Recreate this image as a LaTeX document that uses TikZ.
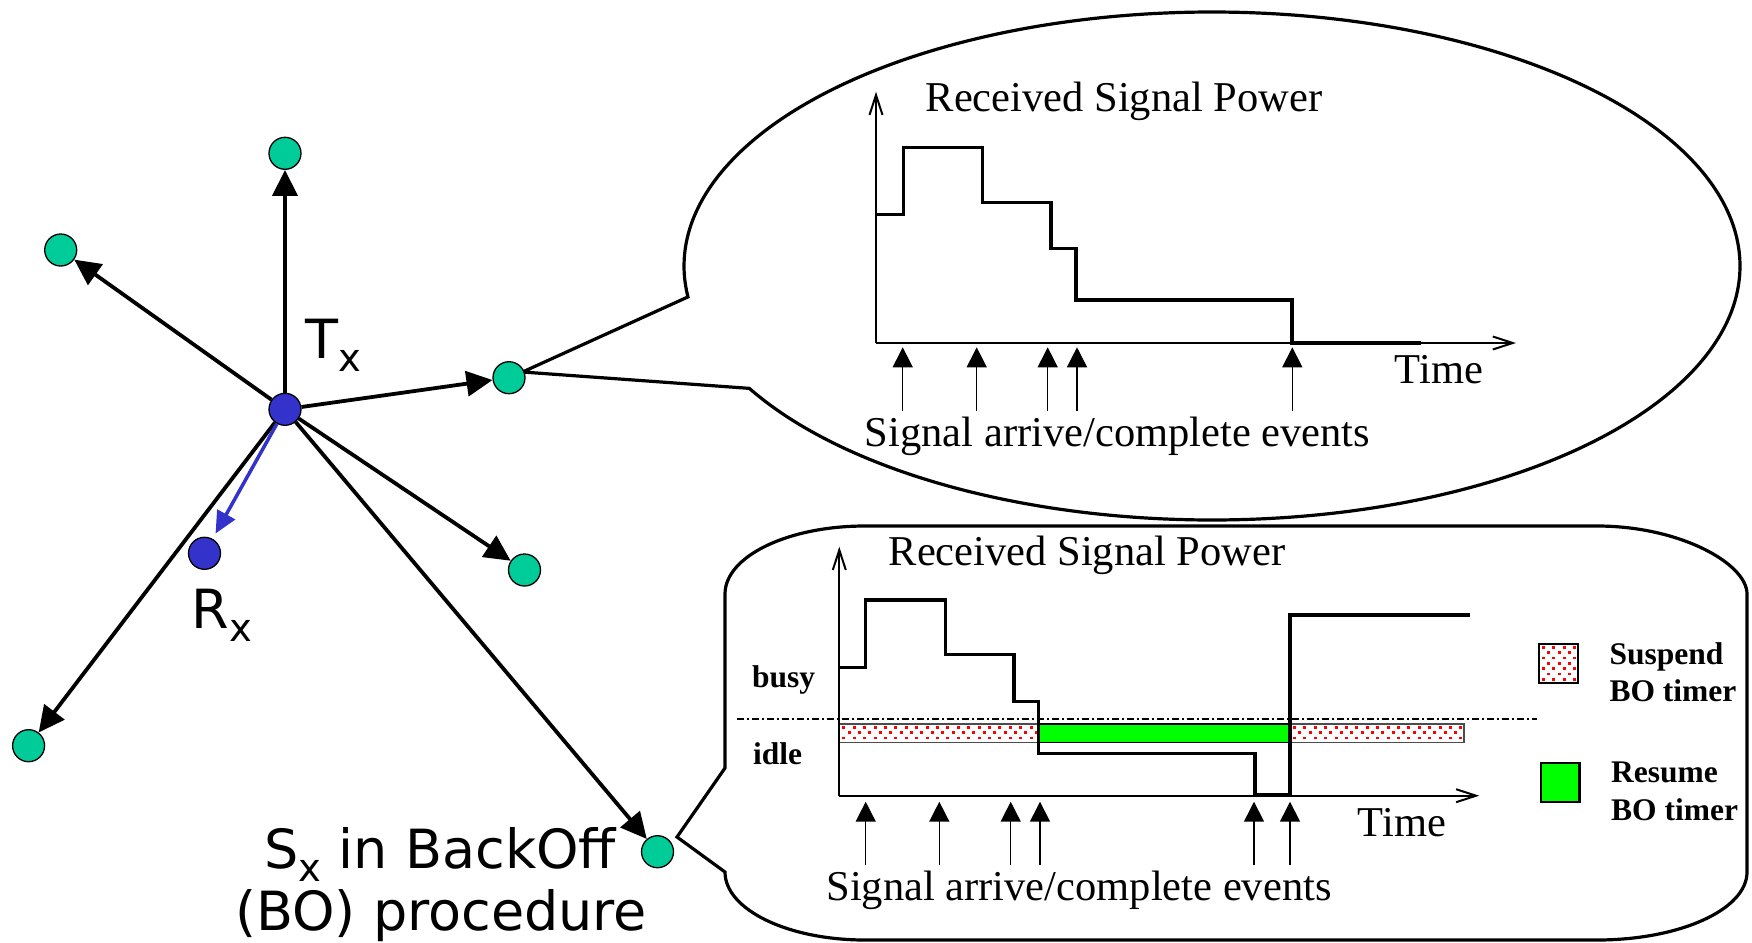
\documentclass[tikz,border=0pt]{standalone}
\usepackage{fontspec}
\setmainfont{Liberation Serif}
\newfontfamily\lblfont{DejaVu Sans}
\usetikzlibrary{arrows.meta}
\definecolor{teal1}{RGB}{0,204,153}
\definecolor{nblue}{RGB}{51,51,204}
\definecolor{bgreen}{RGB}{0,255,0}
\definecolor{dred}{RGB}{255,0,0}

\newcommand{\redDotsBox}[4]{%
  \begin{scope}
    \clip (#1,#2) rectangle (#3,#4);
    \fill[white] (#1,#2) rectangle (#3,#4);
    \foreach \i in {0,...,62}{
      \foreach \j in {0,...,8}{
        \fill[dred] ({#1+3.0+10.4*\i+5.2*mod(\j,2)},{#2+2.0+5.3*\j}) rectangle ++(3.0,2.7);
      }
    }
  \end{scope}}

\tikzset{
  netnode/.style={circle, draw=black, line width=1.3pt, minimum size=32pt, inner sep=0pt, fill=teal1},
  bluenode/.style={netnode, fill=nblue},
  netarrow/.style={line width=3.8pt, -{Triangle[length=26pt,width=25pt]}},
  bluearrow/.style={line width=3.5pt, draw=nblue, -{Triangle[length=22pt,width=20pt]}, shorten >=6pt},
  axisline/.style={line width=2pt, -{Straight Barb[length=20pt,width=13pt]}},
  stepline/.style={line width=3.4pt, line join=miter},
  evarrow/.style={line width=1.5pt, -{Triangle[length=20pt,width=20pt]}},
  charttext/.style={font=\fontsize{42.5}{50}\selectfont, inner sep=0pt, anchor=base},
  boldtext/.style={font=\fontsize{31.5}{36}\selectfont\bfseries, inner sep=0pt, anchor=base west},
  lbltext/.style={font=\lblfont\fontsize{54}{62}\selectfont, inner sep=0pt, anchor=base west},
  bubble/.style={line width=3.2pt, line join=miter},
  barline/.style={draw=black!70, line width=1.2pt},
}

\begin{document}
\begin{tikzpicture}[x=1pt,y=-1pt]
\useasboundingbox (0,0) rectangle (1752,942);

% ---------- upper callout (ellipse) ----------
\coordinate (apexA) at (522.5,372);
\draw[bubble] (apexA) -- plot[domain=151.2:-187,samples=400] ({1212+528*cos(\x)},{266+254*sin(\x)}) -- cycle;

% ---------- lower callout (rounded box) ----------
\coordinate (apexB) at (677,837);
\draw[bubble] (apexB) -- (725,768) -- (725,594)
  .. controls (725,556.4) and (787.7,526) .. (865,526)
  -- (1597,526)
  .. controls (1679.8,526) and (1747,563.6) .. (1747,594)
  -- (1747,872)
  .. controls (1747,909.6) and (1679.8,940) .. (1597,940)
  -- (865,940)
  .. controls (787.7,940) and (725,909.6) .. (725,872)
  -- cycle;

% ---------- network ----------
\node[bluenode] (tx) at (285,409.3) {};
\node[netnode] (top) at (285,153.3) {};
\node[netnode] (ul) at (60.7,250) {};
\node[netnode] (rt) at (509,377.7) {};
\node[netnode] (lr) at (524.5,570) {};
\node[netnode] (ll) at (28.6,745.7) {};
\node[netnode] (sx) at (657.5,851.7) {};
\node[bluenode] (rx) at (204.5,553.3) {};

\draw[netarrow] (tx) -- (top);
\draw[netarrow] (tx) -- (ul);
\draw[netarrow] (tx) -- (rt);
\draw[netarrow] (tx) -- (lr);
\draw[netarrow] (tx) -- (ll);
\draw[netarrow] (tx) -- (sx);
\draw[bluearrow] (tx) -- (rx);

\node[lbltext] (txl) at (305.5,358) {T\raisebox{-13pt}{\fontsize{38.5}{40}\selectfont x}};
\node[lbltext] (rxl) at (191.5,628.3) {R\raisebox{-13pt}{\fontsize{38.5}{40}\selectfont x}};
\node[lbltext] (sxl1) at (264.5,868.3) {S\raisebox{-13pt}{\fontsize{38.5}{40}\selectfont x} in BackOff};
\node[lbltext] (sxl2) at (235,930) {(BO) procedure};

% ---------- chart 1 ----------
\draw[axisline] (876,343) -- (876,91.7);
\draw[axisline] (876,343) -- (1516,343);
\draw[stepline] (876,214.3) -- (903.3,214.3) -- (903.3,147.7) -- (982.7,147.7) -- (982.7,202.7)
  -- (1051,202.7) -- (1051,248.3) -- (1076,248.3) -- (1076,300) -- (1292,300) -- (1292,343) -- (1421,343);
\foreach \ex in {902.7,976.7,1047.7,1077,1292.3}{
  \draw[evarrow] (\ex,410.7) -- (\ex,347.3);
}
\node[charttext] (rsp1) at (1124,111.7) {Received Signal Power};
\node[charttext] (time1) at (1439,383.3) {Time};
\node[charttext] (ev1) at (1117.5,446) {Signal arrive/complete events};

% ---------- chart 2 ----------
\redDotsBox{839.3}{724}{1038.3}{742.7}
\redDotsBox{1290}{724}{1464}{742.7}
\draw[barline] (839.3,724) rectangle (1038.3,742.7);
\draw[barline] (1290,724) rectangle (1464,742.7);
\draw[fill=bgreen, line width=1.5pt] (1038.3,724) rectangle (1290,742.7);
\draw[line width=1.6pt, dash pattern=on 7pt off 3pt on 2pt off 3pt] (736.7,718.7) -- (1536.7,718.7);
\draw[axisline] (839.3,795.7) -- (839.3,546.7);
\draw[axisline] (839.3,795.7) -- (1479.3,795.7);
\draw[stepline] (838.3,667.3) -- (865.7,667.3) -- (865.7,600) -- (945.7,600) -- (945.7,654.3)
  -- (1014,654.3) -- (1014,701.7) -- (1038.3,701.7) -- (1038.3,753.3) -- (1255,753.3)
  -- (1255,795) -- (1290,795) -- (1290,615) -- (1470,615);
\foreach \ex in {865.7,939.3,1010.7,1040,1254,1290}{
  \draw[evarrow] (\ex,865) -- (\ex,801.7);
}
\node[charttext] (rsp2) at (1087,565) {Received Signal Power};
\node[charttext] (time2) at (1402,836) {Time};
\node[charttext] (ev2) at (1079,900) {Signal arrive/complete events};
\node[boldtext] (busy) at (752,687) {busy};
\node[boldtext] (idle) at (753,764.3) {idle};

% legend
\redDotsBox{1539}{644}{1578}{682.7}
\draw[line width=1.8pt] (1539,644) rectangle (1578,682.7);
\draw[fill=bgreen, line width=2.4pt] (1541,762.7) rectangle (1579.3,801.7);
\node[boldtext] (sus1) at (1609.3,664) {Suspend};
\node[boldtext] (sus2) at (1609.3,701.7) {BO timer};
\node[boldtext] (res1) at (1611,782.7) {Resume};
\node[boldtext] (res2) at (1611,820) {BO timer};
\end{tikzpicture}
\end{document}
